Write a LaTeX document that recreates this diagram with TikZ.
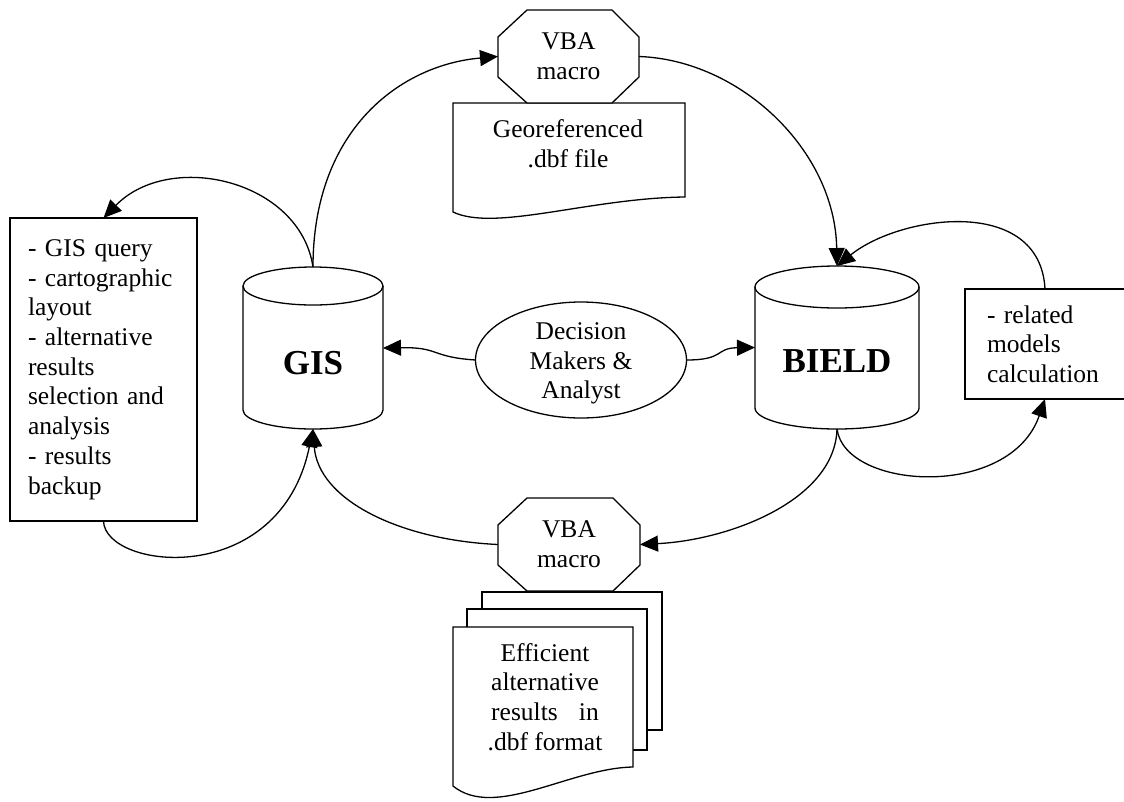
\documentclass[tikz,border=0pt]{standalone}
\usepackage{fontspec}
\setmainfont{Liberation Serif}
\usepackage{calc}
\usetikzlibrary{arrows.meta,shapes.geometric,calc}
\begin{document}
\begin{tikzpicture}[x=1pt,y=-1pt,
  every node/.style={font=\fontsize{25.5}{29.7}\selectfont, inner sep=0pt, outer sep=0pt},
  outline/.style={line width=1.3pt, draw=black},
  conn/.style={line width=1.3pt, -{Triangle[length=18pt,width=16pt]}},
  bigtxt/.style={font=\fontsize{35}{40}\selectfont\bfseries},
  taskbox/.style={draw, line width=1.3pt, align=left},
]
\clip (0,0) rectangle (1124,801);

% ---------- shape outlines ----------
% top document
\draw[outline, fill=white] (453,103) -- (685,103) -- (685,197)
   .. controls (590,198) and (495,232) .. (453,212) -- cycle;
% top octagon
\draw[outline, fill=white] (527,10) -- (612,10) -- (639,37) -- (639,77) -- (612,103)
   -- (527,103) -- (498,77) -- (498,37) -- cycle;
% bottom octagon
\draw[outline, fill=white] (527,498) -- (613,498) -- (640,525) -- (640,565) -- (613,591)
   -- (527,591) -- (498,565) -- (498,525) -- cycle;
% stacked documents
\draw[outline, fill=white] (482,592) rectangle (662,730);
\draw[outline, fill=white] (467,609) rectangle (647,750);
\draw[outline, fill=white] (453,627) -- (633,627) -- (633,767)
   .. controls (570,768) and (495,820) .. (453,786) -- cycle;
% GIS cylinder
\draw[outline] (243,286) -- (243,410) arc[start angle=180, end angle=360, x radius=70pt, y radius=19pt] -- (383,286);
\draw[outline] (313,286) ellipse[x radius=70pt, y radius=19pt];
% BIELD cylinder
\draw[outline] (755,287) -- (755,408) arc[start angle=180, end angle=360, x radius=82pt, y radius=21pt] -- (919,287);
\draw[outline] (837,287) ellipse[x radius=82pt, y radius=21pt];

% ---------- nodes ----------
\node[minimum width=140pt, minimum height=162pt, text height=60pt, text depth=8pt, bigtxt] (gis) at (313,348) {GIS};
\node[minimum width=164pt, minimum height=163pt, text height=57pt, text depth=8pt, bigtxt] (bield) at (837,347.5) {BIELD};
\node[draw, ellipse, line width=1.3pt, minimum width=211pt, minimum height=116pt] (dm) at (581,360)
  {\raisebox{-9.4pt}[0pt][0pt]{\begin{tabular}{@{}c@{}}Decision\\Makers \&\\Analyst\end{tabular}}};
\node[minimum width=141pt, minimum height=93pt, align=center] (vbatop) at (568.5,56.5) {VBA\\macro};
\node[minimum width=142pt, minimum height=93pt, align=center] (vbabot) at (569,544.5) {VBA\\macro};
\node[align=center] (geodoc) at (568,144) {Georeferenced\\.dbf file};
\node[align=center] (effdoc) at (545,697) {Efficient\\alternative\\\makebox[\widthof{alternative}][s]{results in}\\.dbf format};
\node[taskbox, anchor=center, minimum width=187pt, minimum height=303pt, text width=151pt, inner xsep=18pt] (gistasks) at (103.5,369.5)
  {- GIS query\\- cartographic\\layout\\- alternative\\results\\selection and\\analysis\\- results\\backup};
\node[taskbox, anchor=west, minimum width=180pt, minimum height=110pt, text width=136pt, inner xsep=22pt] (bieldtasks) at (965,344)
  {- related\\models\\calculation};
\coordinate (bt-top) at ($(bieldtasks.north west)+(80,0)$);
\coordinate (bt-bot) at ($(bieldtasks.south west)+(80,0)$);

% ---------- connectors ----------
\draw[conn] (gis.north) .. controls (313,130) and (400,65) .. (vbatop.west);
\draw[conn] (gis.north) .. controls (300,180) and (170,150) .. (gistasks.north);
\draw[conn] (vbatop.east) .. controls (740,60) and (835,150) .. (bield.north);
\draw[conn] (bt-top) .. controls (1040,195) and (900,215) .. (bield.north);
\draw[conn] (bield.south) .. controls (845,490) and (1010,500) .. (bt-bot);
\draw[conn] (bield.south) .. controls (835,500) and (730,540) .. (vbabot.east);
\draw[conn] (vbabot.west) .. controls (400,540) and (318,500) .. (gis.south);
\draw[conn] (gistasks.south) .. controls (105,570) and (280,590) .. (gis.south);
\draw[conn] (dm.west) .. controls (430,357) and (440,347) .. (gis.east);
\draw[conn] (dm.east) .. controls (725,360) and (715,348) .. (bield.west);
\end{tikzpicture}
\end{document}
